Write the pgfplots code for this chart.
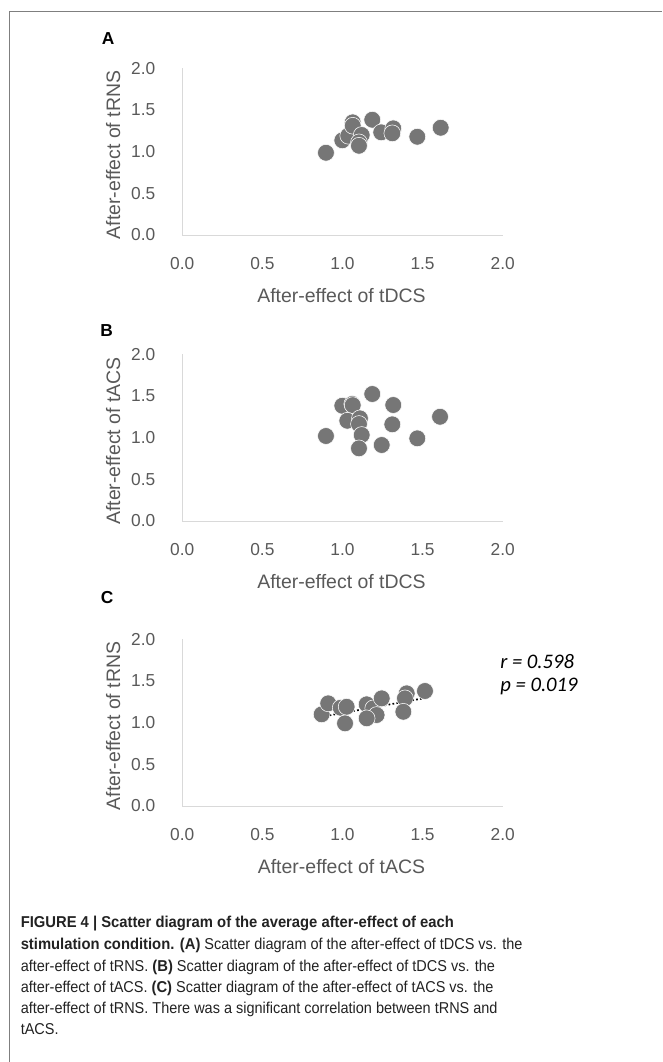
\documentclass[border=0pt]{standalone}
\usepackage{fontspec}
\setmainfont{Liberation Sans}
\newfontfamily\calfont{Carlito}
\newfontfamily\capfont[FakeStretch=0.92, BoldFeatures={FakeStretch=0.94}]{Liberation Sans}
\usepackage{pgfplots}
\pgfplotsset{compat=1.18}

\definecolor{axgray}{HTML}{D9D9D9}
\definecolor{tickgray}{HTML}{595959}
\definecolor{dotgray}{HTML}{767676}
\definecolor{framegray}{HTML}{7F7F7F}
\definecolor{captext}{HTML}{222222}

\pgfplotsset{
  panel/.style={
    scale only axis, width=240.3pt, height=125pt,
    xmin=0, xmax=2, ymin=0, ymax=2,
    axis lines*=left,
    axis line style={draw=axgray, line width=0.75pt},
    xtick={0,0.5,1,1.5,2}, ytick={0,0.5,1,1.5,2},
    xticklabels={0.0,0.5,1.0,1.5,2.0},
    yticklabels={0.0,0.5,1.0,1.5,2.0},
    major tick length=0pt,
    tick label style={font=\fontsize{13}{15}\selectfont, text=tickgray},
    xticklabel style={anchor=center, yshift=-21.75pt, inner sep=0pt},
    yticklabel style={anchor=east, xshift=-20pt, inner sep=0pt},
    label style={font=\fontsize{14.6}{16}\selectfont, text=tickgray},
    xlabel style={at={(axis description cs:0.497,-0.366)}, anchor=center},
    ylabel style={at={(axis description cs:-0.2154,0.48)}, anchor=center},
    clip=false,
  },
  dots/.style={only marks, mark=*, mark size=6.3pt,
    mark options={fill=dotgray, draw=white, line width=0.4pt}},
}

\begin{document}
\begin{tikzpicture}
\useasboundingbox (0,0) rectangle (496.5pt,-796.5pt);

% panel A
\begin{axis}[panel, at={(136.7pt,-176.25pt)}, anchor=south west,
  xlabel={After-effect of tDCS}, ylabel={After-effect of tRNS}]
  \addplot[dots] coordinates {
    (0.897,0.987) (0.999,1.136) (1.036,1.191) (1.064,1.352) (1.064,1.311)
    (1.120,1.200) (1.103,1.112) (1.103,1.071) (1.186,1.383) (1.242,1.232)
    (1.317,1.280) (1.311,1.220) (1.467,1.179) (1.613,1.287)
  };
\end{axis}

% panel B
\begin{axis}[panel, at={(136.7pt,-390.75pt)}, anchor=south west,
  xlabel={After-effect of tDCS}, ylabel={After-effect of tACS}]
  \addplot[dots] coordinates {
    (0.897,1.020) (0.999,1.383) (1.061,1.404) (1.064,1.390) (1.030,1.203)
    (1.109,1.232) (1.103,1.164) (1.120,1.032) (1.103,0.872) (1.186,1.524)
    (1.317,1.392) (1.311,1.160) (1.245,0.912) (1.467,0.992) (1.609,1.251)
  };
\end{axis}

% panel C
\begin{axis}[panel, at={(136.7pt,-604.5pt)}, anchor=south west,
  xlabel={After-effect of tACS}, ylabel={After-effect of tRNS}]
  \addplot[dots] coordinates {
    (0.870,1.100) (0.911,1.232) (0.989,1.179) (1.026,1.191) (1.016,0.992)
    (1.151,1.220) (1.192,1.172) (1.213,1.092) (1.151,1.052) (1.245,1.292)
    (1.401,1.352) (1.390,1.292) (1.380,1.131) (1.515,1.380)
  };
  \addplot[black, line width=1.3pt, dash pattern=on 1.3pt off 1.7pt, mark=none]
    coordinates {(0.870,1.071) (1.504,1.292)};
\end{axis}

\begin{scope}[x=0.75pt, y=-0.75pt]
  \draw[framegray, line width=0.75pt] (9,1062) -- (9,11.5) -- (662,11.5);
  \node[anchor=base west, inner sep=0pt, font=\fontsize{13}{15}\selectfont\bfseries] at (101.5,45) {A};
  \node[anchor=base west, inner sep=0pt, font=\fontsize{13}{15}\selectfont\bfseries] at (100,336.7) {B};
  \node[anchor=base west, inner sep=0pt, font=\fontsize{13}{15}\selectfont\bfseries] at (100.5,603) {C};
  \node[anchor=base west, inner sep=0pt, font=\fontsize{15.5}{17}\calfont\itshape] at (500,668) {r = 0.598};
  \node[anchor=base west, inner sep=0pt, font=\fontsize{15.5}{17}\calfont\itshape] at (500,691) {p = 0.019};
  \begin{scope}[every node/.style={anchor=base west, inner sep=0pt, text=captext, font=\fontsize{11.8}{14}\capfont}]
    \node at (20.5,927) {\textbf{FIGURE 4 | Scatter diagram of the average after-effect of each}};
    \node at (20.5,949) {\textbf{stimulation condition. (A)} Scatter diagram of the after-effect of tDCS vs. the};
    \node at (20.5,971) {after-effect of tRNS. \textbf{(B)} Scatter diagram of the after-effect of tDCS vs. the};
    \node at (20.5,992) {after-effect of tACS. \textbf{(C)} Scatter diagram of the after-effect of tACS vs. the};
    \node at (20.5,1013) {after-effect of tRNS. There was a significant correlation between tRNS and};
    \node at (20.5,1034) {tACS.};
  \end{scope}
\end{scope}
\end{tikzpicture}
\end{document}
